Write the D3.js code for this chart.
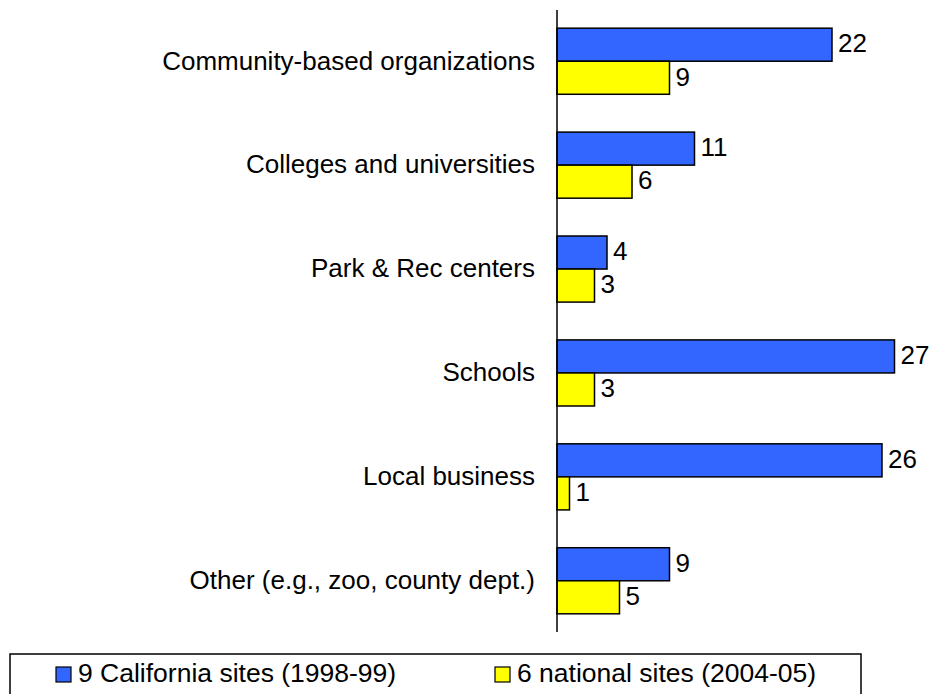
<!DOCTYPE html>
<html>
<head>
<meta charset="utf-8">
<script src="https://cdn.jsdelivr.net/npm/d3@7"></script>
<style>
  html, body { margin: 0; padding: 0; background: #ffffff; overflow: hidden; }
  svg { display: block; font-family: "Liberation Sans", Arial, sans-serif; }
</style>
</head>
<body>
<svg id="chart" width="930" height="694"></svg>
<script>
// Partner types, top to bottom
const categories = [
  "Community-based organizations",
  "Colleges and universities",
  "Park & Rec centers",
  "Schools",
  "Local business",
  "Other (e.g., zoo, county dept.)"
];
const seriesNames = ["9 California sites (1998-99)", "6 national sites (2004-05)"];
const californiaValues = [22, 11, 4, 27, 26, 9];
const nationalValues = [9, 6, 3, 3, 1, 5];
const seriesColors = ["#3366FF", "#FFFF00"];

const svg = d3.select("#chart");

const axisX = 557;
const x = d3.scaleLinear().domain([0, 27]).range([axisX, axisX + 337.5]);
const y = d3.scaleBand().domain(categories).range([10, 632])
  .paddingInner(0.364).paddingOuter(0.175);
const ySub = d3.scaleBand().domain(seriesNames).range([0, y.bandwidth()]);

const rows = categories.map((c, i) => ({
  category: c,
  values: [californiaValues[i], nationalValues[i]]
}));

const groups = svg.selectAll("g.group").data(rows).join("g")
  .attr("class", "group")
  .attr("transform", d => `translate(0,${y(d.category)})`);

groups.selectAll("rect").data(d => d.values.map((v, j) => ({ v, j })))
  .join("rect")
  .attr("x", x(0))
  .attr("y", d => ySub(seriesNames[d.j]))
  .attr("width", d => x(d.v) - x(0))
  .attr("height", ySub.bandwidth())
  .attr("fill", d => seriesColors[d.j])
  .attr("stroke", "#000")
  .attr("stroke-width", 1.5);

groups.selectAll("text.val").data(d => d.values.map((v, j) => ({ v, j })))
  .join("text")
  .attr("class", "val")
  .attr("x", d => x(d.v) + 6)
  .attr("y", d => ySub(seriesNames[d.j]) + ySub.bandwidth() / 2)
  .attr("dy", "0.3em")
  .attr("font-size", 26)
  .attr("fill", "#000")
  .text(d => d.v);

// Category axis: a plain vertical line with labels, no ticks
const yAxis = d3.axisLeft(y).tickSize(0).tickPadding(22);
const axisG = svg.append("g").attr("transform", `translate(${axisX},0)`).call(yAxis);
axisG.select(".domain").attr("stroke", "#000").attr("stroke-width", 1.5)
  .attr("d", `M0,10V632`);
axisG.selectAll(".tick text")
  .attr("font-size", 26)
  .attr("font-family", "\"Liberation Sans\", Arial, sans-serif")
  .attr("fill", "#000");

// Legend box along the bottom edge
const legend = svg.append("g");
legend.append("rect")
  .attr("x", 10).attr("y", 654).attr("width", 851).attr("height", 44)
  .attr("fill", "#fff").attr("stroke", "#000").attr("stroke-width", 1.5);
const legendX = [56, 495];
seriesNames.forEach((name, i) => {
  legend.append("rect")
    .attr("x", legendX[i]).attr("y", 667).attr("width", 15).attr("height", 15)
    .attr("fill", seriesColors[i]).attr("stroke", "#000").attr("stroke-width", 1.2);
  legend.append("text")
    .attr("x", legendX[i] + 22).attr("y", 675).attr("dy", "0.28em")
    .attr("font-size", 26.5)
    .attr("font-family", "\"Liberation Sans\", Arial, sans-serif")
    .attr("fill", "#000")
    .text(name);
});
</script>
</body>
</html>
